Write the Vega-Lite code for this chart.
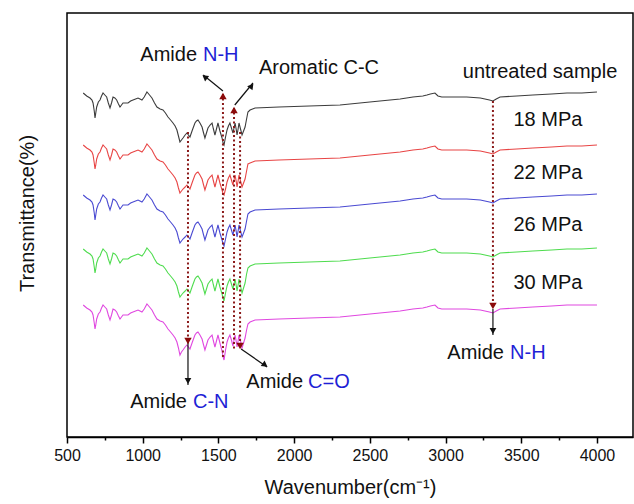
{
  "$schema": "https://vega.github.io/schema/vega-lite/v6.json",
  "width": 566,
  "height": 424,
  "autosize": "none",
  "padding": {"left": 67, "top": 13, "right": 1, "bottom": 67},
  "background": "white",
  "config": {
    "view": {"stroke": "#000", "strokeWidth": 1.5},
    "font": "Liberation Sans",
    "text": {"font": "Liberation Sans", "fontSize": 20}
  },
  "datasets": {
    "spectra": [
      {"x":607,"a":344,"b":292,"c":242,"d":188,"e":132},
      {"x":630,"a":341,"b":289,"c":239,"d":185,"e":129},
      {"x":652,"a":339,"b":287,"c":237,"d":183,"e":127},
      {"x":665,"a":337,"b":285,"c":235,"d":181,"e":125},
      {"x":672,"a":334,"b":282,"c":232,"d":178,"e":122},
      {"x":680,"a":326,"b":274,"c":224,"d":170,"e":114},
      {"x":685,"a":319,"b":268,"c":217,"d":164,"e":108},
      {"x":690,"a":324,"b":272,"c":222,"d":168,"e":112},
      {"x":696,"a":330,"b":278,"c":228,"d":174,"e":118},
      {"x":707,"a":335,"b":283,"c":233,"d":179,"e":123},
      {"x":718,"a":337,"b":285,"c":235,"d":181,"e":125},
      {"x":728,"a":341,"b":289,"c":239,"d":185,"e":129},
      {"x":738,"a":344,"b":292,"c":242,"d":188,"e":132},
      {"x":750,"a":342,"b":290,"c":240,"d":186,"e":130},
      {"x":762,"a":340,"b":288,"c":238,"d":184,"e":128},
      {"x":773,"a":334,"b":282,"c":232,"d":178,"e":122},
      {"x":784,"a":329,"b":277,"c":227,"d":173,"e":117},
      {"x":794,"a":334,"b":282,"c":232,"d":178,"e":122},
      {"x":804,"a":340,"b":288,"c":238,"d":184,"e":128},
      {"x":816,"a":339,"b":287,"c":237,"d":183,"e":127},
      {"x":828,"a":337,"b":285,"c":235,"d":181,"e":125},
      {"x":840,"a":333,"b":281,"c":231,"d":177,"e":121},
      {"x":850,"a":330,"b":278,"c":228,"d":174,"e":118},
      {"x":860,"a":332,"b":280,"c":230,"d":176,"e":120},
      {"x":870,"a":334,"b":282,"c":232,"d":178,"e":122},
      {"x":886,"a":334,"b":282,"c":232,"d":178,"e":122},
      {"x":903,"a":334,"b":282,"c":232,"d":178,"e":122},
      {"x":920,"a":336,"b":284,"c":234,"d":180,"e":124},
      {"x":936,"a":337,"b":285,"c":235,"d":181,"e":125},
      {"x":953,"a":338,"b":286,"c":236,"d":182,"e":126},
      {"x":969,"a":339,"b":287,"c":237,"d":183,"e":127},
      {"x":982,"a":338,"b":286,"c":236,"d":182,"e":126},
      {"x":995,"a":337,"b":285,"c":235,"d":181,"e":125},
      {"x":1010,"a":340,"b":288,"c":238,"d":184,"e":128},
      {"x":1028,"a":345,"b":293,"c":243,"d":189,"e":133},
      {"x":1045,"a":342,"b":290,"c":240,"d":186,"e":130},
      {"x":1061,"a":339,"b":287,"c":237,"d":183,"e":127},
      {"x":1078,"a":334,"b":282,"c":232,"d":178,"e":122},
      {"x":1094,"a":330,"b":278,"c":228,"d":174,"e":118},
      {"x":1115,"a":328,"b":276,"c":226,"d":172,"e":116},
      {"x":1134,"a":327,"b":275,"c":225,"d":171,"e":115},
      {"x":1150,"a":324,"b":272,"c":222,"d":168,"e":112},
      {"x":1167,"a":320,"b":268,"c":218,"d":164,"e":108},
      {"x":1184,"a":317,"b":265,"c":215,"d":161,"e":105},
      {"x":1200,"a":314,"b":262,"c":212,"d":158,"e":102},
      {"x":1214,"a":311,"b":259,"c":209,"d":155,"e":99},
      {"x":1226,"a":307,"b":255,"c":205,"d":151,"e":95},
      {"x":1236,"a":301,"b":249,"c":199,"d":145,"e":89},
      {"x":1246,"a":295,"b":244,"c":194,"d":140,"e":82},
      {"x":1256,"a":297,"b":246,"c":196,"d":142,"e":85},
      {"x":1266,"a":299,"b":248,"c":198,"d":144,"e":87},
      {"x":1280,"a":302,"b":250,"c":200,"d":146,"e":90},
      {"x":1292,"a":304,"b":252,"c":202,"d":148,"e":92},
      {"x":1302,"a":302,"b":250,"c":200,"d":146,"e":90},
      {"x":1312,"a":300,"b":248,"c":198,"d":144,"e":88},
      {"x":1328,"a":307,"b":255,"c":205,"d":151,"e":95},
      {"x":1345,"a":314,"b":262,"c":212,"d":158,"e":102},
      {"x":1355,"a":316,"b":264,"c":214,"d":160,"e":104},
      {"x":1365,"a":317,"b":265,"c":215,"d":161,"e":105},
      {"x":1378,"a":314,"b":262,"c":212,"d":158,"e":102},
      {"x":1392,"a":310,"b":258,"c":208,"d":154,"e":98},
      {"x":1402,"a":304,"b":252,"c":202,"d":148,"e":92},
      {"x":1411,"a":299,"b":247,"c":197,"d":143,"e":87},
      {"x":1421,"a":304,"b":252,"c":202,"d":148,"e":92},
      {"x":1431,"a":309,"b":257,"c":207,"d":153,"e":97},
      {"x":1445,"a":312,"b":260,"c":210,"d":156,"e":100},
      {"x":1458,"a":314,"b":262,"c":212,"d":158,"e":102},
      {"x":1467,"a":308,"b":256,"c":206,"d":152,"e":96},
      {"x":1477,"a":302,"b":250,"c":200,"d":146,"e":90},
      {"x":1487,"a":308,"b":256,"c":206,"d":152,"e":96},
      {"x":1497,"a":314,"b":262,"c":212,"d":158,"e":102},
      {"x":1510,"a":306,"b":254,"c":204,"d":150,"e":94},
      {"x":1524,"a":299,"b":247,"c":197,"d":143,"e":86},
      {"x":1531,"a":294,"b":243,"c":193,"d":139,"e":80},
      {"x":1537,"a":292,"b":242,"c":191,"d":136,"e":77},
      {"x":1547,"a":300,"b":248,"c":198,"d":144,"e":87},
      {"x":1557,"a":307,"b":255,"c":205,"d":151,"e":95},
      {"x":1566,"a":311,"b":259,"c":209,"d":155,"e":99},
      {"x":1576,"a":314,"b":262,"c":212,"d":158,"e":102},
      {"x":1586,"a":309,"b":257,"c":207,"d":153,"e":97},
      {"x":1596,"a":304,"b":252,"c":202,"d":148,"e":91},
      {"x":1603,"a":309,"b":257,"c":207,"d":153,"e":97},
      {"x":1610,"a":314,"b":262,"c":212,"d":158,"e":102},
      {"x":1617,"a":308,"b":256,"c":206,"d":152,"e":96},
      {"x":1623,"a":302,"b":250,"c":200,"d":146,"e":90},
      {"x":1630,"a":308,"b":256,"c":206,"d":152,"e":96},
      {"x":1636,"a":314,"b":262,"c":212,"d":158,"e":102},
      {"x":1646,"a":308,"b":256,"c":206,"d":151,"e":96},
      {"x":1656,"a":302,"b":250,"c":200,"d":144,"e":89},
      {"x":1666,"a":306,"b":254,"c":204,"d":149,"e":94},
      {"x":1676,"a":310,"b":258,"c":208,"d":154,"e":99},
      {"x":1686,"a":318,"b":266,"c":216,"d":163,"e":107},
      {"x":1695,"a":325,"b":273,"c":223,"d":169,"e":113},
      {"x":1709,"a":327,"b":274,"c":225,"d":171,"e":115},
      {"x":1742,"a":329,"b":276,"c":227,"d":173,"e":117},
      {"x":1900,"a":330,"b":277,"c":228,"d":174,"e":118},
      {"x":2100,"a":331,"b":278,"c":229,"d":175,"e":119},
      {"x":2303,"a":332,"b":279,"c":230,"d":176,"e":120},
      {"x":2500,"a":335,"b":282,"c":233,"d":179,"e":123},
      {"x":2700,"a":338,"b":285,"c":236,"d":182,"e":126},
      {"x":2785,"a":340,"b":287,"c":238,"d":184,"e":128},
      {"x":2850,"a":341,"b":288,"c":239,"d":185,"e":129},
      {"x":2877,"a":342,"b":289,"c":240,"d":186,"e":130},
      {"x":2900,"a":343,"b":290,"c":241,"d":187,"e":131},
      {"x":2930,"a":344,"b":291,"c":242,"d":188,"e":132},
      {"x":2950,"a":341,"b":288,"c":239,"d":185,"e":129},
      {"x":2975,"a":340,"b":287,"c":238,"d":184,"e":128},
      {"x":3050,"a":340,"b":287,"c":238,"d":184,"e":128},
      {"x":3140,"a":340,"b":287,"c":238,"d":184,"e":128},
      {"x":3230,"a":339,"b":286,"c":237,"d":183,"e":127},
      {"x":3290,"a":337,"b":284,"c":235,"d":181,"e":125},
      {"x":3313,"a":336,"b":283,"c":234,"d":180,"e":124},
      {"x":3335,"a":338,"b":285,"c":236,"d":182,"e":126},
      {"x":3360,"a":340,"b":287,"c":238,"d":184,"e":128},
      {"x":3470,"a":341,"b":288,"c":239,"d":185,"e":129},
      {"x":3577,"a":342,"b":289,"c":240,"d":186,"e":130},
      {"x":3700,"a":343,"b":290,"c":241,"d":187,"e":131},
      {"x":3802,"a":344,"b":291,"c":242,"d":188,"e":132},
      {"x":3900,"a":344,"b":291,"c":242,"d":188,"e":132},
      {"x":4000,"a":345,"b":292,"c":243,"d":189,"e":132}
    ]
  },
  "encoding": {
    "x": {
      "field": "x", "type": "quantitative",
      "scale": {"domain": [500, 4238], "nice": false, "zero": false},
      "axis": {
        "title": "Wavenumber(cm⁻¹)",
        "values": [500, 750, 1000, 1250, 1500, 1750, 2000, 2250, 2500, 2750, 3000, 3250, 3500, 3750, 4000],
        "format": "d",
        "labelExpr": "datum.value % 500 === 0 ? datum.label : ''",
        "tickSize": {"condition": {"test": "datum.value % 500 === 0", "value": 6}, "value": 3},
        "labelFlush": false,
        "labelFontSize": 16,
        "labelColor": "#111",
        "labelPadding": 4,
        "titleFontSize": 20,
        "titleFontWeight": "normal",
        "titleColor": "#111",
        "titlePadding": 14,
        "tickColor": "#000",
        "tickWidth": 1.5,
        "domainColor": "#000",
        "domainWidth": 1.5,
        "grid": false
      }
    },
    "y": {
      "field": "y", "type": "quantitative",
      "scale": {"domain": [0, 424], "nice": false, "zero": false},
      "axis": {
        "title": "Transmittance(%)",
        "ticks": false, "labels": false, "domain": false, "grid": false,
        "titleFontSize": 20, "titleFontWeight": "normal", "titleColor": "#111",
        "titlePadding": 30, "titleY": 200
      }
    }
  },
  "layer": [
    {
      "data": {"name": "spectra"},
      "transform": [{"fold": ["a", "b", "c", "d", "e"], "as": ["s", "y"]}],
      "mark": {"type": "line", "strokeWidth": 1.1, "interpolate": "linear"},
      "encoding": {
        "color": {
          "field": "s", "type": "nominal",
          "scale": {"domain": ["a", "b", "c", "d", "e"], "range": ["#3c3c3c", "#e84545", "#4a4ad2", "#4fdc4f", "#e048e0"]},
          "legend": null
        }
      }
    },
    {
      "data": {"values": [
        {"x": 1299, "y": 305, "y2": 97},
        {"x": 1530, "y": 343, "y2": 80},
        {"x": 1603, "y": 329, "y2": 86},
        {"x": 1643, "y": 305, "y2": 92},
        {"x": 3313, "y": 336, "y2": 130}
      ]},
      "mark": {"type": "rule", "color": "#8b1a1a", "strokeWidth": 2, "strokeDash": [2, 2.5]},
      "encoding": {
        "y2": {"field": "y2"}
      }
    },
    {
      "data": {"values": [
        {"x": 1530, "y": 346, "x2": 1400, "y2": 362},
        {"x": 1608, "y": 332, "x2": 1728, "y2": 354},
        {"x": 1299, "y": 95, "x2": 1299, "y2": 52},
        {"x": 1650, "y": 88, "x2": 1821, "y2": 70},
        {"x": 3313, "y": 128, "x2": 3313, "y2": 102}
      ]},
      "mark": {"type": "rule", "color": "#111", "strokeWidth": 1.2},
      "encoding": {
        "x2": {"field": "x2"},
        "y2": {"field": "y2"}
      }
    },
    {
      "data": {"values": [
        {"x": 1410, "y": 360, "ang": 307},
        {"x": 1719, "y": 351, "ang": 37},
        {"x": 1299, "y": 56, "ang": 180},
        {"x": 1808, "y": 72, "ang": 125},
        {"x": 3313, "y": 106, "ang": 180}
      ]},
      "mark": {"type": "point", "shape": "triangle-up", "filled": true, "color": "#111", "size": 45, "opacity": 1},
      "encoding": {
        "angle": {"field": "ang", "type": "quantitative", "scale": null}
      }
    },
    {
      "data": {"values": [
        {"x": 1530, "y": 341, "ang": 0},
        {"x": 1603, "y": 327, "ang": 0},
        {"x": 1299, "y": 96, "ang": 180},
        {"x": 1643, "y": 91, "ang": 180},
        {"x": 3313, "y": 131, "ang": 180}
      ]},
      "mark": {"type": "point", "shape": "triangle-up", "filled": true, "color": "#8b0a0a", "size": 55, "opacity": 1},
      "encoding": {
        "angle": {"field": "ang", "type": "quantitative", "scale": null}
      }
    },
    {
      "data": {"values": [
        {"x": 1359, "y": 382, "t": "Amide"},
        {"x": 3386, "y": 84, "t": "Amide"},
        {"x": 1292, "y": 35, "t": "Amide"},
        {"x": 2059, "y": 55, "t": "Amide"}
      ]},
      "mark": {"type": "text", "align": "right", "baseline": "middle", "color": "#111", "fontSize": 20},
      "encoding": {
        "text": {"field": "t"}
      }
    },
    {
      "data": {"values": [
        {"x": 1398, "y": 382, "t": "N-H"},
        {"x": 3426, "y": 84, "t": "N-H"},
        {"x": 1332, "y": 35, "t": "C-N"},
        {"x": 2092, "y": 55, "t": "C=O"}
      ]},
      "mark": {"type": "text", "align": "left", "baseline": "middle", "color": "#1f1fd6", "fontSize": 20},
      "encoding": {
        "text": {"field": "t"}
      }
    },
    {
      "data": {"values": [
        {"x": 1768, "y": 369, "t": "Aromatic C-C"}
      ]},
      "mark": {"type": "text", "align": "left", "baseline": "middle", "color": "#111", "fontSize": 20},
      "encoding": {
        "text": {"field": "t"}
      }
    },
    {
      "data": {"values": [
        {"x": 3624, "y": 365, "t": "untreated sample"},
        {"x": 3676, "y": 317, "t": "18 MPa"},
        {"x": 3676, "y": 264, "t": "22 MPa"},
        {"x": 3676, "y": 212, "t": "26 MPa"},
        {"x": 3676, "y": 154, "t": "30 MPa"}
      ]},
      "mark": {"type": "text", "align": "center", "baseline": "middle", "color": "#111", "fontSize": 20},
      "encoding": {
        "text": {"field": "t"}
      }
    }
  ]
}
